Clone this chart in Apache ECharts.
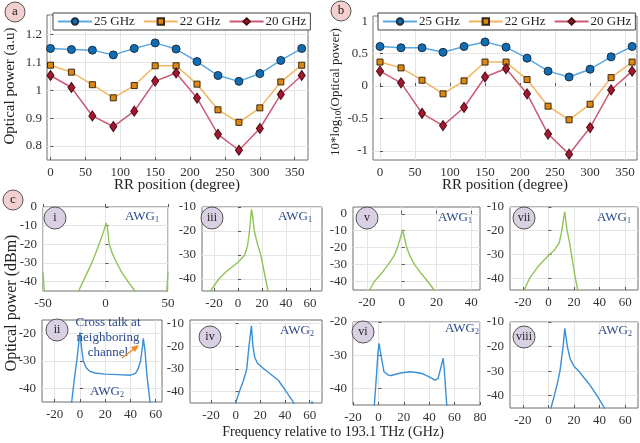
<!DOCTYPE html>
<html>
<head>
<meta charset="utf-8">
<script src="https://cdn.jsdelivr.net/npm/echarts@6/dist/echarts.min.js"></script>
<style>
  html, body { margin: 0; padding: 0; background: #fff; }
  #chart { width: 640px; height: 443px; }
</style>
</head>
<body>
<div id="chart"></div>
<script>
// RR position sweep (panels a, b)
const angles = [0, 30, 60, 90, 120, 150, 180, 210, 240, 270, 300, 330, 360];
const powerA25 = [1.150, 1.146, 1.144, 1.127, 1.150, 1.170, 1.148, 1.103, 1.053, 1.032, 1.060, 1.107, 1.150];
const powerA22 = [1.090, 1.065, 1.020, 0.973, 1.017, 1.088, 1.088, 1.022, 0.930, 0.885, 0.937, 1.030, 1.090];
const powerA20 = [1.053, 1.010, 0.908, 0.870, 0.925, 1.033, 1.062, 0.972, 0.842, 0.785, 0.863, 0.985, 1.053];
const powerB25 = [0.61, 0.59, 0.59, 0.52, 0.61, 0.68, 0.60, 0.43, 0.23, 0.14, 0.26, 0.45, 0.61];
const powerB22 = [0.37, 0.28, 0.09, -0.12, 0.08, 0.37, 0.37, 0.10, -0.31, -0.52, -0.28, 0.13, 0.37];
const powerB20 = [0.23, 0.05, -0.42, -0.61, -0.33, 0.14, 0.27, -0.12, -0.74, -1.05, -0.64, -0.06, 0.23];
const legendNames = ['25 GHz', '22 GHz', '20 GHz'];

// spectra (GHz, dBm)
const specI = [[-50, -35], [-48.8, -47], [-47, -60], [-24, -60], [-21.5, -45], [-18, -40], [-14.5, -35], [-11, -30], [-8, -25], [-5.2, -20], [-3, -16], [-1, -12], [0.5, -8.5], [1.5, -11], [3, -20], [5.5, -25], [9, -30], [13, -35], [18, -40], [23.5, -45], [26, -60], [47, -60], [48.8, -47], [50, -35]];
const specIII = [[-25, -48], [-23, -45], [-16, -40], [-10, -37], [-5, -35], [0, -33], [5.6, -30], [8, -26], [9.6, -20], [10.5, -15], [11.2, -11], [12, -13], [13.6, -20], [16, -25], [19, -30], [23, -40], [25, -45], [26, -55]];
const specV = [[-20, -48], [-18.5, -45], [-15.7, -40], [-11.5, -35], [-7.8, -30], [-4.5, -25], [-2.5, -20], [-1, -15], [0.5, -9.4], [1.5, -14], [2.9, -20], [4.8, -25], [7.4, -30], [11, -35], [15, -40], [18.6, -45], [20, -48]];
const specVII = [[-21, -48], [-19, -45], [-14.6, -40], [-8, -35], [0.8, -30], [5, -28], [8.5, -25], [10.5, -20], [11.8, -15], [12.8, -12], [13.6, -16], [14.6, -20], [16.5, -25], [18, -30], [21, -40], [23, -45], [24, -48]];
const specII = [[-7.5, -48], [-6.5, -45], [-4.5, -37], [-2.5, -30], [-1, -24], [0, -19.5], [1, -24], [2.7, -30], [5, -32.5], [8, -33.8], [12, -34.4], [20, -34.8], [30, -35], [40, -35.2], [44, -34.5], [46, -33], [48, -30], [49.5, -25], [50.2, -21.7], [51.5, -26], [53, -35], [55.5, -45], [56.5, -48]];
const specIV = [[-1, -48], [0, -45], [3, -40], [6.4, -35], [9, -30], [10.8, -20], [12.8, -11], [14, -20], [15.5, -25], [17.7, -27.5], [24, -30.5], [30, -33], [34.6, -35], [41, -40], [46, -44], [49, -47], [60, -48], [62, -44.3], [63, -48]];
const specVI = [[-4, -48], [-3.2, -45], [-1.5, -36], [-0.3, -29], [0.5, -26.4], [2, -30], [4.4, -35], [7.8, -36], [10, -36.1], [15, -35.6], [20, -35.2], [25, -35], [30, -35.2], [35, -35.6], [40, -36.5], [44.6, -37.5], [47, -37], [49, -34], [51, -30.9], [52, -35], [53.8, -45], [54.5, -48]];
const specVIII = [[1, -48], [2, -45], [4.6, -40], [7, -35], [9, -30], [11.5, -20], [12.8, -12.6], [14, -17], [14.8, -20], [17, -25], [20, -28], [23.8, -30], [27.5, -32.5], [31.5, -35], [38, -40], [43.8, -45], [45, -47]];

// tick labels
const ticksAngle = [0, 50, 100, 150, 200, 250, 300, 350];
const ticksA = [0.8, 0.9, 1, 1.1, 1.2];
const ticksB = [-1, -0.5, 0, 0.5, 1];
const ticksX50 = [-50, 0, 50];
const ticksX60 = [-20, 0, 20, 40, 60];
const ticksX40 = [-20, 0, 20, 40];
const ticksX80 = [-20, 0, 20, 40, 60, 80];
const ticksY0 = [0, -10, -20, -30, -40];
const ticksY10 = [-10, -20, -30, -40];
const ticksY20 = [-20, -30, -40];

const SERIF = '"Liberation Serif", "DejaVu Serif", serif';
const GREEN = '#8fc457';
const BLUE = '#3a8fd6';
const NAVY = '#2b4a8c';

const grids = [], xAxes = [], yAxes = [], series = [];

function addPanel(box, xr, yr, xt, yt, fs, xm, ym) {
  const idx = grids.length;
  grids.push({
    left: box[0], top: box[1], width: box[2], height: box[3],
    show: true, borderColor: '#6e6e6e', borderWidth: 1, backgroundColor: 'transparent'
  });
  xAxes.push({
    type: 'value', gridIndex: idx, min: xr[0], max: xr[1],
    axisLine: { show: false },
    axisTick: { inside: true, length: 3, customValues: xt, lineStyle: { color: '#555' } },
    axisLabel: { customValues: xt, fontSize: fs, fontFamily: SERIF, color: '#333', margin: xm },
    splitLine: { show: true, lineStyle: { color: '#e4e4e4' } }
  });
  yAxes.push({
    type: 'value', gridIndex: idx, min: yr[0], max: yr[1],
    axisLine: { show: false },
    axisTick: { inside: true, length: 3, customValues: yt, lineStyle: { color: '#555' } },
    axisLabel: { customValues: yt, fontSize: fs, fontFamily: SERIF, color: '#333', margin: ym },
    splitLine: { show: true, lineStyle: { color: '#e4e4e4' } }
  });
  return idx;
}

function sweepSeries(idx, name, values, lineColor, fill, border, symbol, size) {
  series.push({
    type: 'line', name: name, xAxisIndex: idx, yAxisIndex: idx,
    data: angles.map((a, i) => [a, values[i]]),
    symbol: symbol, symbolSize: size, showSymbol: true,
    lineStyle: { color: lineColor, width: 1.5 },
    itemStyle: { color: fill, borderColor: border, borderWidth: 1 },
    z: 3
  });
}

function specSeries(idx, data, color) {
  series.push({
    type: 'line', xAxisIndex: idx, yAxisIndex: idx, data: data,
    showSymbol: false, symbol: 'none', clip: true,
    lineStyle: { color: color, width: 1.4 }
  });
}

// top panels
const pa = addPanel([47, 15, 261, 145], [-5, 369], [0.75, 1.27], ticksAngle, ticksA, 13, 6, 5);
sweepSeries(pa, '25 GHz', powerA25, '#5aa8e0', '#0f6db3', '#1c2f44', 'circle', 8);
sweepSeries(pa, '22 GHz', powerA22, '#f2b65e', '#de8712', '#3b2a12', 'rect', 6);
sweepSeries(pa, '20 GHz', powerA20, '#cc5a74', '#a3172f', '#4a0b14', 'diamond', [7, 10]);

const pb = addPanel([373, 16, 264, 144], [-10, 367], [-1.14, 1.08], ticksAngle, ticksB, 13, 6, 5);
sweepSeries(pb, '25 GHz', powerB25, '#5aa8e0', '#0f6db3', '#1c2f44', 'circle', 8);
sweepSeries(pb, '22 GHz', powerB22, '#f2b65e', '#de8712', '#3b2a12', 'rect', 6);
sweepSeries(pb, '20 GHz', powerB20, '#cc5a74', '#a3172f', '#4a0b14', 'diamond', [7, 10]);

// spectra panels
specSeries(addPanel([43, 207, 125, 84], [-50, 50], [-45, 0], ticksX50, ticksY0, 13, 6, 6), specI, GREEN);
specSeries(addPanel([202, 207, 120, 84], [-30, 70], [-45, -10], ticksX60, ticksY10, 13, 6, 6), specIII, GREEN);
specSeries(addPanel([353, 207, 127, 83], [-28, 45], [-45, 4], ticksX40, ticksY0, 13, 6, 6), specV, GREEN);
specSeries(addPanel([510, 207, 128, 83], [-30, 70], [-45, -10], ticksX60, ticksY10, 13, 6, 6), specVII, GREEN);
specSeries(addPanel([42, 320, 120, 82], [-30, 65], [-45, -15], ticksX60, ticksY20, 13, 6, 6), specII, BLUE);
specSeries(addPanel([190, 320, 132, 83], [-37, 70], [-45, -8.5], ticksX60, ticksY10, 13, 6, 6), specIV, BLUE);
specSeries(addPanel([353, 322, 127, 83], [-20, 80], [-45, -20], ticksX80, ticksY20, 13, 6, 6), specVI, BLUE);
specSeries(addPanel([510, 322, 128, 86], [-30, 70], [-45, -10], ticksX60, ticksY10, 13, 6, 6), specVIII, BLUE);

function legendBox(left) {
  return {
    left: left, top: 13, width: 330, orient: 'horizontal', data: legendNames,
    backgroundColor: '#fff', borderColor: '#444', borderWidth: 1, borderRadius: 0,
    padding: [2, 4], itemGap: 8, itemWidth: 34, itemHeight: 8,
    textStyle: { fontFamily: SERIF, fontSize: 13, color: '#222', padding: [0, 0, 0, -3] },
    selectedMode: false
  };
}

function badge(cx, cy, r, fill, label, fs) {
  return [
    { type: 'circle', z: 100, shape: { cx: cx, cy: cy, r: r }, style: { fill: fill, stroke: '#555', lineWidth: 1 } },
    { type: 'text', z: 101, x: cx, y: cy, style: { text: label, fill: '#222', fontFamily: SERIF, fontSize: fs, align: 'center', verticalAlign: 'middle' } }
  ];
}

function awg(x, y, sub) {
  return {
    type: 'text', z: 101, x: x, y: y,
    style: {
      text: '{m|AWG}{s|' + sub + '}', fill: NAVY, align: 'left', verticalAlign: 'middle',
      rich: {
        m: { fontFamily: SERIF, fontSize: 13, fill: NAVY },
        s: { fontFamily: SERIF, fontSize: 8, fill: NAVY, verticalAlign: 'bottom', padding: [6, 0, 0, 0] }
      }
    }
  };
}

function label(x, y, text, fs, rot) {
  return {
    type: 'text', z: 101, x: x, y: y, rotation: rot || 0,
    style: { text: text, fill: '#222', fontFamily: SERIF, fontSize: fs, align: 'center', verticalAlign: 'middle' }
  };
}

const graphics = [].concat(
  badge(15, 12, 10, '#f3cfcf', 'a', 13),
  badge(341, 11, 10, '#f3cfcf', 'b', 13),
  badge(13, 200, 10, '#f3cfcf', 'c', 13),
  badge(55, 218, 11, '#d9d1e3', 'i', 12),
  badge(212, 218, 11, '#d9d1e3', 'iii', 12),
  badge(367, 218, 11, '#d9d1e3', 'v', 12),
  badge(524, 218, 11, '#d9d1e3', 'vii', 12),
  badge(57, 330, 11, '#d9d1e3', 'ii', 12),
  badge(210, 337, 11, '#d9d1e3', 'iv', 12),
  badge(363, 332, 11, '#d9d1e3', 'vi', 12),
  badge(524, 337, 11, '#d9d1e3', 'viii', 12),
  [
    awg(125, 217, '1'), awg(278, 217, '1'), awg(438, 218, '1'), awg(597, 218, '1'),
    awg(90, 392, '2'), awg(280, 331, '2'), awg(445, 329, '2'), awg(598, 331, '2'),
    {
      type: 'text', z: 101, x: 108, y: 338,
      style: { text: 'Cross talk at\nneighboring\nchannel', fill: NAVY, fontFamily: SERIF, fontSize: 13, lineHeight: 15, align: 'center', verticalAlign: 'middle' }
    },
    { type: 'line', z: 101, shape: { x1: 122, y1: 358, x2: 135, y2: 348 }, style: { stroke: '#f08a24', lineWidth: 1.5 } },
    { type: 'polygon', z: 101, shape: { points: [[139, 345], [131, 347], [135, 352]] }, style: { fill: '#f08a24' } },
    label(10, 86, 'Optical power (a.u)', 15, Math.PI / 2),
    {
      type: 'text', z: 101, x: 336, y: 92, rotation: Math.PI / 2,
      style: {
        text: '{m|10*log}{s|10}{m|(Optical power)}', align: 'center', verticalAlign: 'middle',
        rich: {
          m: { fontFamily: SERIF, fontSize: 13, fill: '#222' },
          s: { fontFamily: SERIF, fontSize: 9, fill: '#222', verticalAlign: 'bottom', padding: [6, 0, 0, 0] }
        }
      }
    },
    label(177, 185, 'RR position (degree)', 15),
    label(505, 185, 'RR position (degree)', 15),
    label(12, 303, 'Optical power (dBm)', 16, Math.PI / 2),
    label(333, 432, 'Frequency relative to 193.1 THz (GHz)', 14)
  ]
);

const chart = echarts.init(document.getElementById('chart'));
chart.setOption({
  animation: false,
  backgroundColor: '#fff',
  grid: grids,
  xAxis: xAxes,
  yAxis: yAxes,
  legend: [legendBox(53), legendBox(378)],
  series: series,
  graphic: graphics
});
</script>
</body>
</html>
